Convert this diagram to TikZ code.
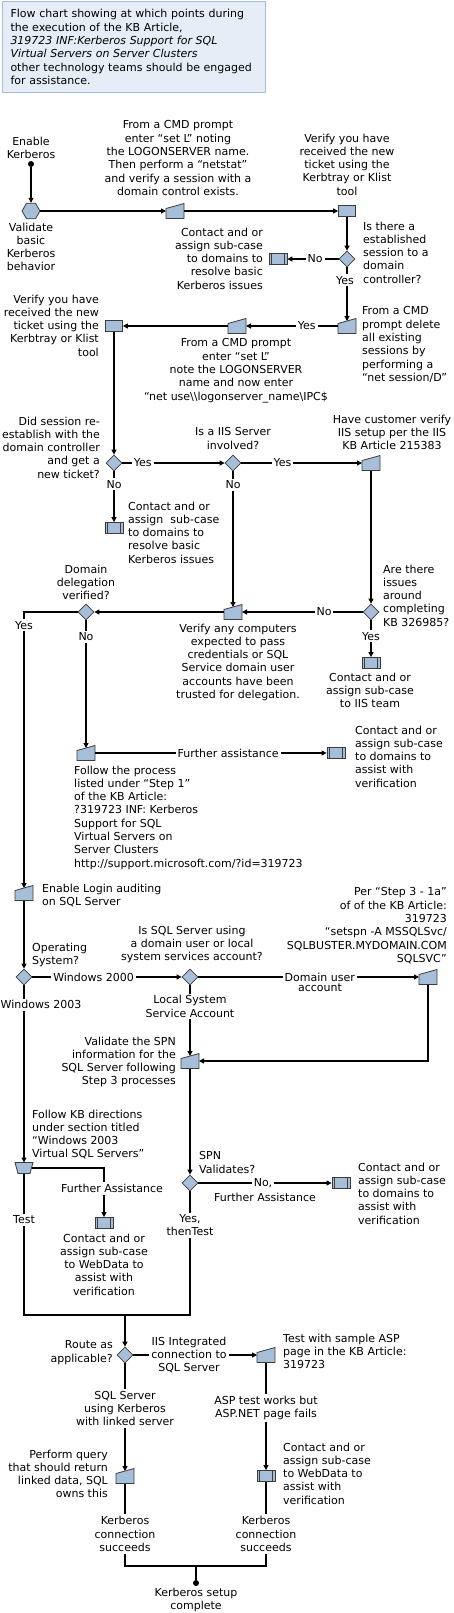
\documentclass[tikz,border=0pt]{standalone}
\usepackage{fontspec}
\setmainfont{DejaVu Sans}
\usetikzlibrary{shapes.geometric,arrows.meta,calc}
\definecolor{shapefill}{HTML}{A6BED8}
\definecolor{shapeline}{HTML}{3C3C3C}
\definecolor{notefill}{HTML}{E6EDF7}
\definecolor{noteline}{HTML}{A7BCDC}
\tikzset{
  shapebd/.style={draw=shapeline, fill=shapefill, line width=0.8pt},
  procbox/.style={rectangle, shapebd, minimum width=17pt, minimum height=11pt},
  predef/.style={rectangle, shapebd, minimum width=18pt, minimum height=11pt},
  decision/.style={diamond, shapebd, minimum width=16pt, minimum height=16pt},
  manin/.style={rectangle, minimum width=18pt, minimum height=15pt, outer sep=0pt},
  manop/.style={rectangle, minimum width=18pt, minimum height=11pt, outer sep=0pt},
  hexbox/.style={regular polygon, regular polygon sides=6, shapebd, minimum size=18pt},
  dot/.style={circle, fill=black, minimum size=6pt},
  titlebox/.style={draw=noteline, fill=notefill, line width=1pt, align=left, text width=247pt,
    minimum height=91pt, inner xsep=8pt, inner ysep=6pt, anchor=north west},
  conn/.style={line width=1.1pt},
  intop/.style={shorten >=-2.5pt},
  lbl/.style={fill=white, inner sep=2pt, align=center},
  txtc/.style={align=center, anchor=north},
  txtl/.style={align=left, anchor=north west},
  txtr/.style={align=right, anchor=north east}
}
\begin{document}
\begin{tikzpicture}[x=1pt, y=-1pt, every node/.style={font=\fontsize{11}{13.3}\selectfont, inner sep=0pt},
  >={Triangle[length=5pt,width=5pt]}]
  \useasboundingbox (0,0) rectangle (454,1613);
  \node[titlebox] (title) at (2,1) {Flow chart showing at which points during\\the execution of the KB Article,\\
    \textit{319723 INF:Kerberos Support for SQL}\\\textit{Virtual Servers on Server Clusters}\\
    other technology teams should be engaged\\for assistance.};

  % shapes
  \node[dot] (start) at (31,164) {};
  \node[hexbox] (valid) at (31,211) {};
  \node[manin] (cmd1) at (175,211) {};
  \node[procbox] (tick1) at (347,211) {};
  \node[decision] (dc) at (347,259) {};
  \node[predef] (sub1) at (278,259) {};
  \node[manin] (del) at (347,326) {};
  \node[manin] (cmd2) at (237,326) {};
  \node[procbox] (tick2) at (114,326) {};
  \node[decision] (reest) at (114,463) {};
  \node[decision] (iis) at (233,463) {};
  \node[manin] (iiskb) at (371,463) {};
  \node[predef] (sub2) at (114,528) {};
  \node[manin] (vercomp) at (233,612) {};
  \node[decision] (issues) at (371,612) {};
  \node[predef] (subiis) at (371,663) {};
  \node[decision] (deleg) at (86,612) {};
  \node[manin] (step1) at (86,753) {};
  \node[predef] (subdom) at (336,753) {};
  \node[manin] (login) at (24,893) {};
  \node[decision] (os) at (24,977) {};
  \node[decision] (acct) at (190,977) {};
  \node[manin] (setspn) at (428,977) {};
  \node[manin] (spn) at (190,1061) {};
  \node[decision] (spnok) at (190,1183) {};
  \node[predef] (subspn) at (341,1183) {};
  \node[manop] (w2003) at (24,1168) {};
  \node[predef] (subweb1) at (104,1223) {};
  \node[decision] (route) at (125,1355) {};
  \node[manin] (asp) at (266,1355) {};
  \node[manin] (query) at (125,1476) {};
  \node[predef] (subweb2) at (266,1476) {};
  \node[dot] (done) at (196,1583) {};
  \coordinate (jn) at (125,1315);
  \coordinate (jn2) at (196,1566);

  \foreach \n in {cmd1,del,cmd2,iiskb,vercomp,step1,login,setspn,spn,asp,query}
    \filldraw[shapebd] (\n.south west) -- ($(\n.north west)+(0,5)$) -- (\n.north east) -- (\n.south east) -- cycle;
  \filldraw[shapebd] (w2003.north west) -- (w2003.north east) -- ($(w2003.south east)+(-3,0)$)
    -- ($(w2003.south west)+(3,0)$) -- cycle;
  \foreach \n in {sub1,sub2,subiis,subdom,subspn,subweb1,subweb2}
    \draw[draw=shapeline, line width=0.8pt] ($(\n.north west)+(3,0)$) -- ($(\n.south west)+(3,0)$)
      ($(\n.north east)+(-3,0)$) -- ($(\n.south east)+(-3,0)$);

  % texts
  \node[txtc] (enabletxt) at (31,136.5) {Enable\\Kerberos};
  \node[txtc] (validtxt) at (31,222.5) {Validate\\basic\\Kerberos\\behavior};
  \node[txtc] (cmd1txt) at (178,120.5) {From a CMD prompt\\enter “set L” noting\\the LOGONSERVER name.\\Then perform a “netstat”\\and verify a session with a\\domain control exists.};
  \node[txtc] (tick1txt) at (347,133.5) {Verify you have\\received the new\\ticket using the\\Kerbtray or Klist\\tool};
  \node[txtl] (dctxt) at (363,221.5) {Is there a\\established\\session to a\\domain\\controller?};
  \node[txtr] (sub1txt) at (263,227.5) {Contact and or\\assign sub-case\\to domains to\\resolve basic\\Kerberos issues};
  \node[txtl] (deltxt) at (362,306.5) {From a CMD\\prompt delete\\all existing\\sessions by\\performing a\\“net session/D”};
  \node[txtc] (cmd2txt) at (236,338.5) {From a CMD prompt\\enter “set L”\\note the LOGONSERVER\\name and now enter\\“net use\textbackslash\textbackslash logonserver\_name\textbackslash IPC\$};
  \node[txtr] (tick2txt) at (99,294.5) {Verify you have\\received the new\\ticket using the\\Kerbtray or Klist\\tool};
  \node[txtr] (reesttxt) at (100,416.5) {Did session re-\\establish with the\\domain controller\\and get a\\new ticket?};
  \node[txtc] (iistxt) at (233,427.5) {Is a IIS Server\\involved?};
  \node[txtc] (iiskbtxt) at (392,414.5) {Have customer verify\\IIS setup per the IIS\\KB Article 215383};
  \node[txtl] (sub2txt) at (128,501.5) {Contact and or\\assign\ \ sub-case\\to domains to\\resolve basic\\Kerberos issues};
  \node[txtl] (issuestxt) at (383,564.5) {Are there\\issues\\around\\completing\\KB 326985?};
  \node[txtc] (delegtxt) at (86,564.5) {Domain\\delegation\\verified?};
  \node[txtc] (vercomptxt) at (238,623.5) {Verify any computers\\expected to pass\\credentials or SQL\\Service domain user\\accounts have been\\trusted for delegation.};
  \node[txtc] (subiistxt) at (370,672.5) {Contact and or\\assign sub-case\\to IIS team};
  \node[txtl] (step1txt) at (74,765.5) {Follow the process\\listed under “Step 1”\\of the KB Article:\\?319723 INF: Kerberos\\Support for SQL\\Virtual Servers on\\Server Clusters\\http://support.microsoft.com/?id=319723};
  \node[txtl] (subdomtxt) at (355,725.5) {Contact and or\\assign sub-case\\to domains to\\assist with\\verification};
  \node[txtl] (logintxt) at (42,883.5) {Enable Login auditing\\on SQL Server};
  \node[txtl] (ostxt) at (32,942.5) {Operating\\System?};
  \node[txtc] (accttxt) at (192,925.5) {Is SQL Server using\\a domain user or local\\system services account?};
  \node[txtr] (setspntxt) at (447,887.5) {Per “Step 3 - 1a”\\of of the KB Article:\\319723\\“setspn -A MSSQLSvc/\\SQLBUSTER.MYDOMAIN.COM\\SQLSVC"};
  \node[txtr] (spntxt) at (176,1036.5) {Validate the SPN\\information for the\\SQL Server following\\Step 3 processes};
  \node[txtl] (spnoktxt) at (199,1151.5) {SPN\\Validates?};
  \node[txtl] (subspntxt) at (358,1162.5) {Contact and or\\assign sub-case\\to domains to\\assist with\\verification};
  \node[txtl] (w2003txt) at (32,1109.5) {Follow KB directions\\under section titled\\“Windows 2003\\Virtual SQL Servers”};
  \node[txtc] (subweb1txt) at (104,1233.5) {Contact and or\\assign sub-case\\to WebData to\\assist with\\verification};
  \node[txtr] (routetxt) at (113,1340.5) {Route as\\applicable?};
  \node[txtl] (asptxt) at (283,1333.5) {Test with sample ASP\\page in the KB Article:\\319723};
  \node[txtr] (querytxt) at (108,1449.5) {Perform query\\that should return\\linked data, SQL\\owns this};
  \node[txtl] (subweb2txt) at (283,1442.5) {Contact and or\\assign sub-case\\to WebData to\\assist with\\verification};
  \node[txtc] (donetxt) at (196,1587.5) {Kerberos setup\\complete};
  \node[lbl] (ks1) at (125,1534) {Kerberos\\connection\\succeeds};
  \node[lbl] (ks2) at (266,1534) {Kerberos\\connection\\succeeds};

  % connectors
  \draw[conn,->] (start) -- (valid);
  \draw[conn,->] (valid) -- (cmd1);
  \draw[conn,->] (cmd1) -- (tick1);
  \draw[conn,->] (tick1) -- (dc);
  \draw[conn,->] (dc) -- node[lbl, pos=0.46] {No} (sub1);
  \draw[conn,->,intop] (dc) -- node[lbl, pos=0.25, xshift=-2pt] {Yes} (del);
  \draw[conn,->] (del) -- node[lbl, pos=0.34] {Yes} (cmd2);
  \draw[conn,->] (cmd2) -- (tick2);
  \draw[conn,->] (tick2) -- (reest);
  \draw[conn,->] (reest) -- node[lbl, pos=0.2] {Yes} (iis);
  \draw[conn,->] (iis) -- node[lbl, pos=0.34] {Yes} (iiskb);
  \draw[conn,->] (reest) -- node[lbl, pos=0.25] {No} (sub2);
  \draw[conn,->,intop] (iis) -- node[lbl, pos=0.1] {No} (vercomp);
  \draw[conn,->] (iiskb) -- (issues);
  \draw[conn,->] (issues) -- node[lbl, pos=0.32] {No} (vercomp);
  \draw[conn,->] (issues) -- node[lbl, pos=0.43] {Yes} (subiis);
  \draw[conn,->] (vercomp) -- (deleg);
  \draw[conn,->,intop] (deleg) -| node[lbl, pos=0.524] {Yes} (login);
  \draw[conn,->,intop] (deleg) -- node[lbl, pos=0.13] {No} (step1);
  \draw[conn,->] (step1) -- node[lbl, pos=0.575] {Further assistance} (subdom);
  \draw[conn,->] (login) -- (os);
  \draw[conn,->] (os) -- node[lbl, pos=0.41] {Windows 2000} (acct);
  \draw[conn,->] (os) -- node[lbl, pos=0.11, xshift=17pt] {Windows 2003} (w2003);
  \draw[conn,->] (acct) -- node[lbl, pos=0.55] {Domain user} (setspn);
  \node (accttxt2) at (320,988) {account};
  \draw[conn,->,intop] (acct) -- node[lbl, pos=0.31] {Local System\\Service Account} (spn);
  \draw[conn,->] (setspn) |- (spn);
  \draw[conn,->] (spn) -- (spnok);
  \draw[conn,->] (spnok) -- node[lbl, pos=0.485] {No,} (subspn);
  \node (spnoktxt2) at (265,1197) {Further Assistance};
  \draw[conn,->,shorten <=-1.5pt] (w2003) -| node[lbl, pos=0.71, xshift=8pt] {Further Assistance} (subweb1);
  \draw[conn] (w2003) |- node[lbl, pos=0.163] {Test} (jn);
  \draw[conn] (spnok) |- node[lbl, pos=0.137] {Yes,\\thenTest} (jn);
  \draw[conn,->] (jn) -- (route);
  \draw[conn,->] (route) -- node[lbl, pos=0.45] {IIS Integrated\\connection to\\SQL Server} (asp);
  \draw[conn,->,intop] (route) -- node[lbl, pos=0.43] {SQL Server\\using Kerberos\\with linked server} (query);
  \draw[conn,->] (asp) -- node[lbl, pos=0.42] {ASP test works but\\ASP.NET page fails} (subweb2);
  \draw[conn] (query) -- (ks1);
  \draw[conn] (subweb2) -- (ks2);
  \draw[conn] (ks1) |- (jn2) -| (ks2);
  \draw[conn] (jn2) -- (done);
\end{tikzpicture}
\end{document}
